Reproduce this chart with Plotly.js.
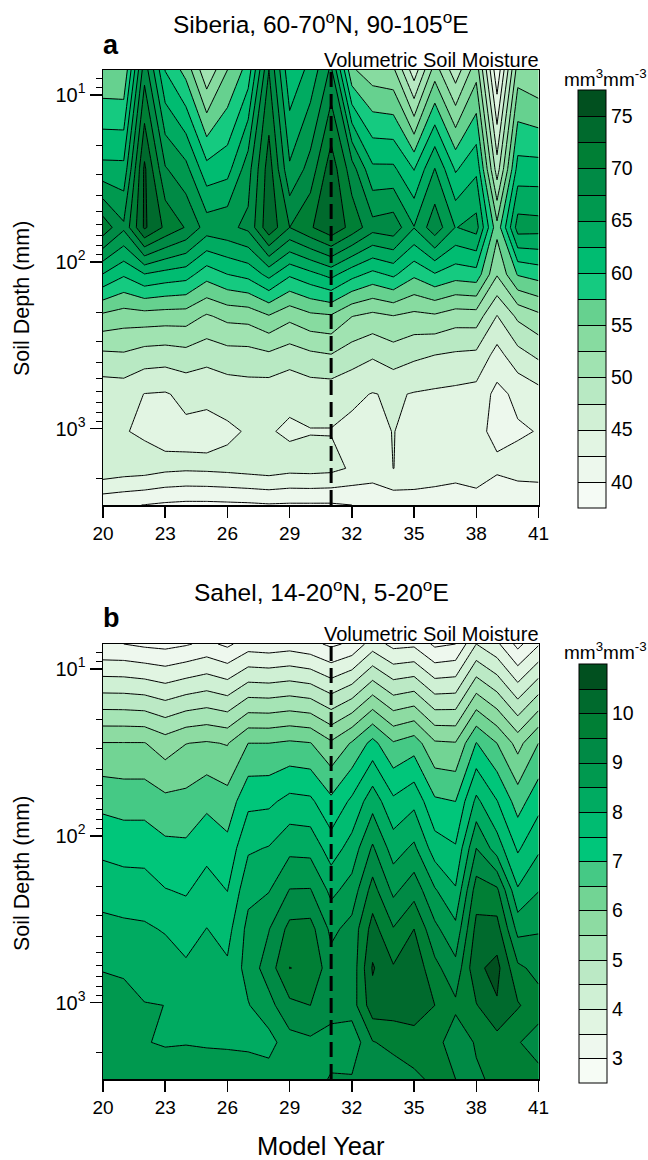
<!DOCTYPE html>
<html><head><meta charset="utf-8">
<script src="https://cdn.plot.ly/plotly-3.0.1.min.js"></script>
<style>html,body{margin:0;padding:0;background:#fff}</style></head>
<body><div id="chart" style="width:648px;height:1160px"></div>
<script>
const years=[20,21,22,23,24,25,26,27,28,29,30,31,32,33,34,35,36,37,38,39,40,41];
const depths=[7.1,27.9,62.3,118.9,212,362,620,1038,1728,2865];
const xTicks=[20,23,26,29,32,35,38,41];
const yTicks=[10,100,1000];
const yTickText=['10<sup>1</sup>','10<sup>2</sup>','10<sup>3</sup>'];
const yMinor=[8,9,20,30,40,50,60,70,80,90,200,300,400,500,600,700,800,900,2000];

const siberia1=[55.2,55.1,69,59.9,56.6,50.5,55,58.5,70,60.5,63.3,68,55.4,53.5,53,46,53.7,48.5,54,40.5,53.7,52.6];
const siberia2=[63.25,63.2,75.5,67.75,65.8,60.9,61.6,66.5,73.8,65.4,68.5,74,68.7,63,63,59.9,65.1,59.7,62,48.7,61,61];
const siberia3=[71.6,68,75.4,72,69.8,66.4,66.9,68.06,74.3,70,72.2,74.5,71.6,68.5,69.1,65.1,69.1,64.9,66,55.8,66.2,66];
const siberia4=[62.4,60.35,62.4,61.6,61.1,58.55,60,60.8,63.3,60.4,61.8,63.3,60.9,59.3,60.5,58,59.8,58.6,59,52.7,57.7,58.5];
const siberia5=[54.4,53.75,53.9,53.75,53.7,52.2,53.2,53.4,54.8,53.2,54.4,54.7,52.55,51.8,52.4,51.8,52.1,51.2,51.3,47.4,50.5,51.9];
const siberia6=[49.5,49.7,48.9,48.7,49.1,48.4,49,49.05,49.55,48.7,49.5,49.9,48.7,47.8,48.8,48,47.5,47.15,46.95,44.1,46.6,47.97];
const siberia7=[45.9,46,44.95,44.8,45.6,45.5,46,46.3,46,45.5,46,46,45.5,44.9,45.3,44.85,44.6,44.4,44.1,41.8,43.1,44.1];
const siberia8=[45.5,45.15,44.6,44.3,44.5,44.3,44.6,45.2,45.15,44.7,44.9,44.9,44.4,44.5,45.05,44.4,44.2,44,43,42,42.2,42.6];
const siberia9=[46.9,46.4,46.2,45.6,45.4,45.5,45.7,46,46.3,45.8,45.9,45.7,44.7,43.5,45.02,44.4,43.9,43.5,43.8,42.9,43.4,43.6];
const siberia10=[40.6,40.3,39.95,39.6,39.4,39.4,39.5,39.6,39.8,39.7,39.7,39.7,40,41,40.8,41.1,41.1,41,41.4,40.6,40.8,40.7];

const sahel1=[3.02,3,2.9,2.85,2.95,3.12,2.9,3.25,3.2,3.27,3.15,2.9,3.1,3.75,3.35,3.4,2.9,3,4,3.6,2.85,3.45];
const sahel2=[6.02,6.02,6.02,5.75,5.99,6.05,5.97,6.5,6.5,6.58,6.52,6.08,6.55,7.16,6.55,6.76,6.07,6.03,7.02,6.5,5.82,6.5];
const sahel3=[6.86,6.8,6.8,6.63,6.65,6.88,6.7,7.38,7.4,7.65,7.6,7.11,7.6,8.3,7.6,7.87,7.08,7,8.12,7.52,6.78,7.32];
const sahel4=[7.38,7.3,7.3,7.13,7.1,7.35,7.16,7.93,8.03,8.37,8.34,7.75,8.2,9.07,8.27,8.6,7.75,7.55,9,8.25,7.43,7.92];
const sahel5=[7.8,7.75,7.72,7.52,7.45,7.7,7.49,8.35,8.47,9.02,9.03,8.37,8.7,9.7,8.88,9.3,8.55,8.05,9.75,9.6,8.05,8.48];
const sahel6=[8.15,8.1,8.07,7.96,7.78,8.01,7.82,8.65,8.98,9.65,9.68,8.88,9.17,10.2,9.53,10,9.12,8.63,10.15,10.2,8.84,8.95];
const sahel7=[8.47,8.4,8.3,8.25,8.08,8.15,8.08,8.7,9.25,10.01,9.9,9.2,9.17,10.55,10.05,10.35,9.65,9.15,10.4,10.65,9.6,9.35];
const sahel8=[8.75,8.75,8.52,8.498,8.3,8.3,8.27,8.47,8.83,9.38,9.5,9.15,9.25,10.3,10.25,10.3,10,9.6,9.97,10.45,10.05,9.7];
const sahel9=[8.9,8.9,8.515,8.47,8.48,8.45,8.44,8.43,8.31,8.8,8.9,8.85,8.65,9.47,9.65,9.75,9.7,9.2,9.55,9.8,9.53,9.3];
const sahel10=[8.85,8.8,8.6,8.7,8.75,8.78,8.75,8.7,8.75,8.75,8.85,9.03,9.05,9.1,9.2,9.4,9.6,9.5,9.43,9.6,9.75,9.65];

const siberiaColors=['#f5fbf5','#edf8ed','#e2f5e3','#d1f0d5','#b8e9c3','#a0e3b1','#87dba0','#66d18f','#15ca80','#00bc71','#00ab61','#00994f','#008a45','#007f35','#006a2d','#01501f'];
const sahelColors=['#f6fcf5','#eef8ee','#e1f5e2','#cff0d4','#bbe9c5','#a5e4b5','#8ddba2','#72d494','#45c985','#00c67a','#00bc71','#00ab61','#00994f','#008a45','#007f35','#006a2d','#01501f'];
const siberiaLevels={start:40,end:75,size:2.5};
const sahelLevels={start:3,end:10.5,size:0.5};
const siberiaBarTicks=[40,45,50,55,60,65,70,75];
const sahelBarTicks=[3,4,5,6,7,8,9,10];

const W=648,H=1160,FONT='Liberation Sans, Arial, sans-serif';
const fx=p=>p/W, fy=p=>1-p/H;
const ramp=c=>c.map((k,i)=>[i/(c.length-1),k]);

function panel(z,colors,levels,barVals,xa,ya,top,bot,barX){
  return {type:'contour',x:years,y:depths,z:z,xaxis:xa,yaxis:ya,
    colorscale:ramp(colors),zauto:false,zmin:levels.start-levels.size,zmax:levels.end+levels.size,
    autocontour:false,contours:{start:levels.start,end:levels.end,size:levels.size,coloring:'fill',showlines:true},
    line:{color:'#000',width:1,smoothing:0},hoverinfo:'skip',
    colorbar:{x:fx(barX),xanchor:'left',xpad:0,ypad:0,y:fy(top),yanchor:'top',len:(bot-top)/H,lenmode:'fraction',
      thickness:28,thicknessmode:'pixels',outlinecolor:'#000',outlinewidth:1,tickmode:'array',tickvals:barVals,
      ticks:'',ticklabelposition:'outside',tickfont:{family:FONT,size:19.5,color:'#000'}}};
}
const traces=[
 panel([siberia1,siberia2,siberia3,siberia4,siberia5,siberia6,siberia7,siberia8,siberia9,siberia10],siberiaColors,siberiaLevels,siberiaBarTicks,'x','y',90,508,578),
 panel([sahel1,sahel2,sahel3,sahel4,sahel5,sahel6,sahel7,sahel8,sahel9,sahel10],sahelColors,sahelLevels,sahelBarTicks,'x2','y2',664,1083,579)
];
function xAxis(anchor,title){return {domain:[fx(103),fx(538.5)],range:[20,41],anchor:anchor,tickmode:'array',tickvals:xTicks,
  ticks:'outside',ticklen:11,tickwidth:1.5,tickcolor:'#000',showgrid:false,zeroline:false,showline:true,mirror:true,linecolor:'#000',linewidth:1.5,
  tickfont:{family:FONT,size:19,color:'#000'},title:title?{text:title,font:{family:FONT,size:25.5,color:'#000'},standoff:20}:undefined};}
function yAxis(anchor,top,bot){return {domain:[fy(bot),fy(top)],type:'log',range:[Math.log10(2865),Math.log10(7.1)],anchor:anchor,
  tickmode:'array',tickvals:yTicks,ticktext:yTickText,ticks:'outside',ticklen:12,tickwidth:1.5,tickcolor:'#000',
  minor:{tickmode:'array',tickvals:yMinor,ticks:'outside',ticklen:6,tickwidth:1,tickcolor:'#000',showgrid:false},
  showgrid:false,zeroline:false,showline:true,mirror:true,linecolor:'#000',linewidth:1.5,
  tickfont:{family:FONT,size:20,color:'#000'}};}
function note(text,px,py,size,anchor,bold,angle){return {xref:'paper',yref:'paper',x:fx(px),y:fy(py),text:bold?'<b>'+text+'</b>':text,showarrow:false,
  xanchor:anchor,yanchor:'middle',textangle:angle||0,font:{family:FONT,size:size,color:'#000'}};}
const layout={width:W,height:H,margin:{l:0,r:0,t:0,b:0},paper_bgcolor:'#fff',plot_bgcolor:'#fff',showlegend:false,
  xaxis:xAxis('y'),yaxis:yAxis('x',70,505),xaxis2:xAxis('y2','Model Year'),yaxis2:yAxis('x2',644,1079),
  annotations:[
    note('Siberia, 60-70<sup>o</sup>N, 90-105<sup>o</sup>E',321,23,24.5,'center'),
    note('a',111,45,27,'center',true),
    note('Volumetric Soil Moisture',541,60,20,'right'),
    note('mm<sup>3</sup>mm<sup>-3</sup>',605,78,19,'center'),
    note('Soil Depth (mm)',22,299,21.5,'center',false,-90),
    note('Sahel, 14-20<sup>o</sup>N, 5-20<sup>o</sup>E',321,590,24.5,'center'),
    note('b',111,618,27,'center',true),
    note('Volumetric Soil Moisture',541,634,20,'right'),
    note('mm<sup>3</sup>mm<sup>-3</sup>',605,651,19,'center'),
    note('Soil Depth (mm)',22,874,21.5,'center',false,-90)
  ],
  shapes:[['x','y'],['x2','y2']].map(a=>({type:'line',xref:a[0],yref:a[1]+' domain',x0:31,x1:31,y0:0,y1:1,
    line:{color:'#000',width:3,dash:'15px,7px'},layer:'above'}))
};
Plotly.newPlot('chart',traces,layout,{staticPlot:true,displayModeBar:false});
</script></body></html>
